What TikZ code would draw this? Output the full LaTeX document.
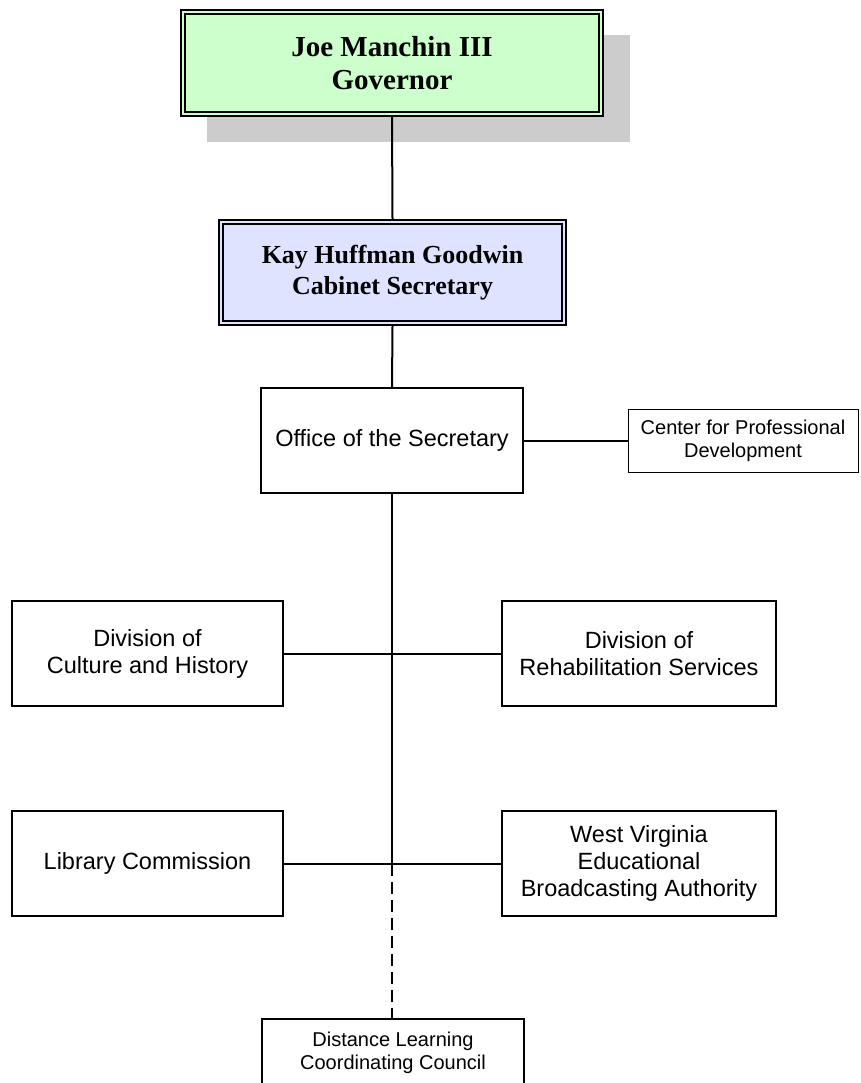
\documentclass[tikz,border=0pt]{standalone}
\usepackage{fontspec}
\setmainfont{Liberation Serif}
\newfontfamily\arialfont{Liberation Sans}
\definecolor{govgreen}{HTML}{CCFFCC}
\definecolor{seclav}{HTML}{DFE3FF}
\definecolor{shadowgray}{HTML}{CCCCCC}
\tikzset{
  topbox/.style={draw=black, line width=2pt, inner sep=0pt, align=center,
    font=\bfseries\fontsize{29}{33}\selectfont},
  orgbox/.style={draw=black, line width=1.8pt, inner sep=0pt, align=center,
    font=\arialfont\fontsize{23.5}{27}\selectfont},
  smallbox/.style={draw=black, line width=1pt, inner sep=0pt, align=center,
    font=\arialfont\fontsize{20}{23}\selectfont},
  link/.style={draw=black, line width=2pt},
  dlink/.style={draw=black, line width=1.6pt, dash pattern=on 12pt off 6pt},
}
\begin{document}
\begin{tikzpicture}[x=1pt,y=-1pt]
\useasboundingbox (0,0) rectangle (861,1083);
% shadow behind governor
\fill[shadowgray] (207,35) rectangle (630,142);
% governor
\node[topbox, fill=govgreen, minimum width=422pt, minimum height=106pt] (gov) at (392,63) {Joe Manchin III\\Governor};
\draw[line width=1.3pt] ([xshift=5pt,yshift=-5pt]gov.north west) rectangle ([xshift=-5pt,yshift=5pt]gov.south east);
% cabinet secretary
\node[topbox, fill=seclav, minimum width=347pt, minimum height=105pt, font=\bfseries\fontsize{26}{31}\selectfont] (sec) at (392.5,272.5) {Kay Huffman Goodwin\\Cabinet Secretary};
\draw[line width=1.3pt] ([xshift=5pt,yshift=-5pt]sec.north west) rectangle ([xshift=-5pt,yshift=5pt]sec.south east);
% office
\node[orgbox, fill=white, minimum width=262pt, minimum height=105pt] (office) at (392,440.5) {Office of the Secretary};
\node[smallbox, fill=white, minimum width=230pt, minimum height=63pt] (cpd) at (743,440.5) {Center for Professional\\Development};
% divisions
\node[orgbox, minimum width=271pt, minimum height=105pt] (cult) at (147.5,653.5) {Division of\\Culture and History};
\node[orgbox, minimum width=274pt, minimum height=105pt] (rehab) at (639,653.5) {Division of\\Rehabilitation Services};
\node[orgbox, minimum width=271pt, minimum height=105pt] (lib) at (147.5,863.5) {Library Commission};
\node[orgbox, minimum width=274pt, minimum height=105pt] (wveba) at (639,863.5) {West Virginia\\Educational\\Broadcasting Authority};
\node[orgbox, minimum width=262pt, minimum height=68pt, font=\arialfont\fontsize{20}{23}\selectfont] (dlcc) at (393,1053) {Distance Learning\\Coordinating Council};
% connectors
\coordinate (jlib) at (392,863.5);
\draw[link] (gov.south) -- (sec.north);
\draw[link] (sec.south) -- (office.north);
\draw[link] (office.east) -- (cpd.west);
\draw[link] (office.south) -- (jlib);
\draw[link] (cult.east) -- (rehab.west);
\draw[link] (lib.east) -- (wveba.west);
\draw[dlink] (jlib) -- (jlib |- dlcc.north);
\end{tikzpicture}
\end{document}
